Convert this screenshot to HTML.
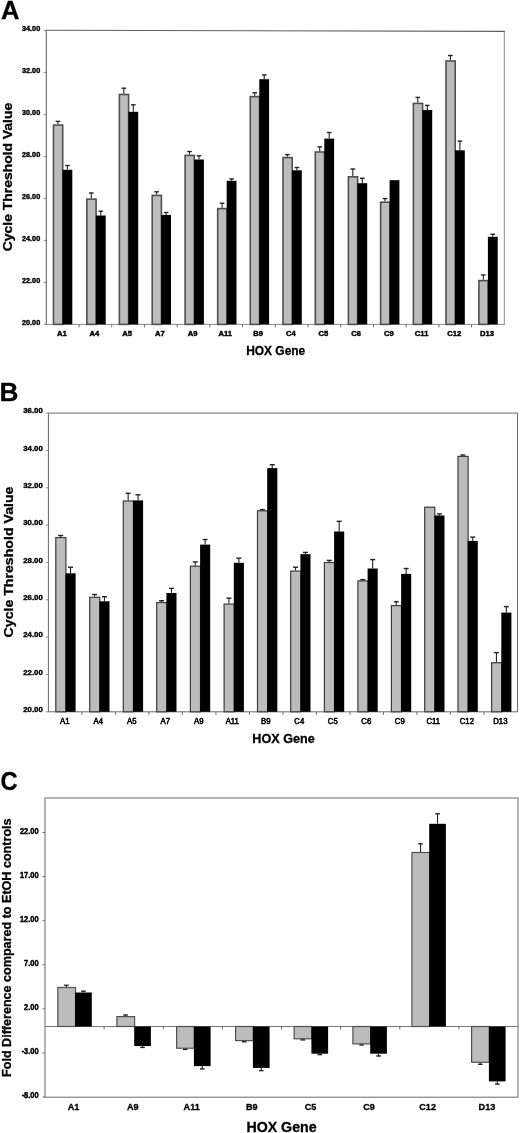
<!DOCTYPE html>
<html><head><meta charset="utf-8"><style>
html,body{margin:0;padding:0;background:#fff;}
body{width:520px;height:1133px;overflow:hidden;}
svg{display:block;font-family:"Liberation Sans", sans-serif;filter:grayscale(1);}
</style></head><body>
<svg width="520" height="1133" viewBox="0 0 520 1133">
<rect width="520" height="1133" fill="#fff"/>
<text transform="translate(1.00,19.10)" font-size="25.5" font-weight="bold" text-anchor="start" fill="#000" stroke="#000" stroke-width="0.3">A</text>
<line x1="45.8" y1="30.2" x2="504.8" y2="31.4" stroke="#606060" stroke-width="1.1"/>
<line x1="504.3" y1="31" x2="504.3" y2="324.4" stroke="#8a8a8a" stroke-width="1"/>
<line x1="46.3" y1="324.4" x2="504.8" y2="324.4" stroke="#8a8a8a" stroke-width="1"/>
<line x1="46.3" y1="30" x2="46.3" y2="324.9" stroke="#666" stroke-width="1.1"/>
<rect x="53.50" y="125.10" width="9.20" height="199.30" fill="#bcbcbc" stroke="#505050" stroke-width="1.6"/>
<rect x="62.50" y="169.80" width="9.80" height="154.60" fill="#000"/>
<line x1="57.90" y1="124.30" x2="57.90" y2="121.40" stroke="#222" stroke-width="1.1"/>
<line x1="55.60" y1="121.40" x2="60.20" y2="121.40" stroke="#222" stroke-width="1.4"/>
<line x1="67.40" y1="169.80" x2="67.40" y2="165.50" stroke="#222" stroke-width="1.1"/>
<line x1="65.10" y1="165.50" x2="69.70" y2="165.50" stroke="#222" stroke-width="1.4"/>
<rect x="86.90" y="199.10" width="9.20" height="125.30" fill="#bcbcbc" stroke="#505050" stroke-width="1.6"/>
<rect x="95.90" y="215.50" width="9.80" height="108.90" fill="#000"/>
<line x1="91.30" y1="198.30" x2="91.30" y2="193.00" stroke="#222" stroke-width="1.1"/>
<line x1="89.00" y1="193.00" x2="93.60" y2="193.00" stroke="#222" stroke-width="1.4"/>
<line x1="100.80" y1="215.50" x2="100.80" y2="211.20" stroke="#222" stroke-width="1.1"/>
<line x1="98.50" y1="211.20" x2="103.10" y2="211.20" stroke="#222" stroke-width="1.4"/>
<rect x="119.40" y="94.50" width="9.20" height="229.90" fill="#bcbcbc" stroke="#505050" stroke-width="1.6"/>
<rect x="128.40" y="111.80" width="9.80" height="212.60" fill="#000"/>
<line x1="123.80" y1="93.70" x2="123.80" y2="88.20" stroke="#222" stroke-width="1.1"/>
<line x1="121.50" y1="88.20" x2="126.10" y2="88.20" stroke="#222" stroke-width="1.4"/>
<line x1="133.30" y1="111.80" x2="133.30" y2="104.80" stroke="#222" stroke-width="1.1"/>
<line x1="131.00" y1="104.80" x2="135.60" y2="104.80" stroke="#222" stroke-width="1.4"/>
<rect x="152.20" y="195.40" width="9.20" height="129.00" fill="#bcbcbc" stroke="#505050" stroke-width="1.6"/>
<rect x="161.20" y="214.90" width="9.80" height="109.50" fill="#000"/>
<line x1="156.60" y1="194.60" x2="156.60" y2="191.80" stroke="#222" stroke-width="1.1"/>
<line x1="154.30" y1="191.80" x2="158.90" y2="191.80" stroke="#222" stroke-width="1.4"/>
<line x1="166.10" y1="214.90" x2="166.10" y2="212.50" stroke="#222" stroke-width="1.1"/>
<line x1="163.80" y1="212.50" x2="168.40" y2="212.50" stroke="#222" stroke-width="1.4"/>
<rect x="185.10" y="155.40" width="9.20" height="169.00" fill="#bcbcbc" stroke="#505050" stroke-width="1.6"/>
<rect x="194.10" y="159.50" width="9.80" height="164.90" fill="#000"/>
<line x1="189.50" y1="154.60" x2="189.50" y2="151.50" stroke="#222" stroke-width="1.1"/>
<line x1="187.20" y1="151.50" x2="191.80" y2="151.50" stroke="#222" stroke-width="1.4"/>
<line x1="199.00" y1="159.50" x2="199.00" y2="155.80" stroke="#222" stroke-width="1.1"/>
<line x1="196.70" y1="155.80" x2="201.30" y2="155.80" stroke="#222" stroke-width="1.4"/>
<rect x="217.70" y="208.60" width="9.20" height="115.80" fill="#bcbcbc" stroke="#505050" stroke-width="1.6"/>
<rect x="226.70" y="180.80" width="9.80" height="143.60" fill="#000"/>
<line x1="222.10" y1="207.80" x2="222.10" y2="203.20" stroke="#222" stroke-width="1.1"/>
<line x1="219.80" y1="203.20" x2="224.40" y2="203.20" stroke="#222" stroke-width="1.4"/>
<line x1="231.60" y1="180.80" x2="231.60" y2="178.90" stroke="#222" stroke-width="1.1"/>
<line x1="229.30" y1="178.90" x2="233.90" y2="178.90" stroke="#222" stroke-width="1.4"/>
<rect x="250.30" y="96.60" width="9.20" height="227.80" fill="#bcbcbc" stroke="#505050" stroke-width="1.6"/>
<rect x="259.30" y="79.20" width="9.80" height="245.20" fill="#000"/>
<line x1="254.70" y1="95.80" x2="254.70" y2="92.80" stroke="#222" stroke-width="1.1"/>
<line x1="252.40" y1="92.80" x2="257.00" y2="92.80" stroke="#222" stroke-width="1.4"/>
<line x1="264.20" y1="79.20" x2="264.20" y2="74.90" stroke="#222" stroke-width="1.1"/>
<line x1="261.90" y1="74.90" x2="266.50" y2="74.90" stroke="#222" stroke-width="1.4"/>
<rect x="283.00" y="157.60" width="9.20" height="166.80" fill="#bcbcbc" stroke="#505050" stroke-width="1.6"/>
<rect x="292.00" y="170.30" width="9.80" height="154.10" fill="#000"/>
<line x1="287.40" y1="156.80" x2="287.40" y2="154.60" stroke="#222" stroke-width="1.1"/>
<line x1="285.10" y1="154.60" x2="289.70" y2="154.60" stroke="#222" stroke-width="1.4"/>
<line x1="296.90" y1="170.30" x2="296.90" y2="167.50" stroke="#222" stroke-width="1.1"/>
<line x1="294.60" y1="167.50" x2="299.20" y2="167.50" stroke="#222" stroke-width="1.4"/>
<rect x="315.30" y="152.00" width="9.20" height="172.40" fill="#bcbcbc" stroke="#505050" stroke-width="1.6"/>
<rect x="324.30" y="138.60" width="9.80" height="185.80" fill="#000"/>
<line x1="319.70" y1="151.20" x2="319.70" y2="146.90" stroke="#222" stroke-width="1.1"/>
<line x1="317.40" y1="146.90" x2="322.00" y2="146.90" stroke="#222" stroke-width="1.4"/>
<line x1="329.20" y1="138.60" x2="329.20" y2="132.50" stroke="#222" stroke-width="1.1"/>
<line x1="326.90" y1="132.50" x2="331.50" y2="132.50" stroke="#222" stroke-width="1.4"/>
<rect x="348.40" y="176.80" width="9.20" height="147.60" fill="#bcbcbc" stroke="#505050" stroke-width="1.6"/>
<rect x="357.40" y="183.20" width="9.80" height="141.20" fill="#000"/>
<line x1="352.80" y1="176.00" x2="352.80" y2="169.00" stroke="#222" stroke-width="1.1"/>
<line x1="350.50" y1="169.00" x2="355.10" y2="169.00" stroke="#222" stroke-width="1.4"/>
<line x1="362.30" y1="183.20" x2="362.30" y2="178.30" stroke="#222" stroke-width="1.1"/>
<line x1="360.00" y1="178.30" x2="364.60" y2="178.30" stroke="#222" stroke-width="1.4"/>
<rect x="380.60" y="202.20" width="9.20" height="122.20" fill="#bcbcbc" stroke="#505050" stroke-width="1.6"/>
<rect x="389.60" y="180.20" width="9.80" height="144.20" fill="#000"/>
<line x1="385.00" y1="201.40" x2="385.00" y2="198.60" stroke="#222" stroke-width="1.1"/>
<line x1="382.70" y1="198.60" x2="387.30" y2="198.60" stroke="#222" stroke-width="1.4"/>
<rect x="413.40" y="103.40" width="9.20" height="221.00" fill="#bcbcbc" stroke="#505050" stroke-width="1.6"/>
<rect x="422.40" y="110.00" width="9.80" height="214.40" fill="#000"/>
<line x1="417.80" y1="102.60" x2="417.80" y2="97.40" stroke="#222" stroke-width="1.1"/>
<line x1="415.50" y1="97.40" x2="420.10" y2="97.40" stroke="#222" stroke-width="1.4"/>
<line x1="427.30" y1="110.00" x2="427.30" y2="105.40" stroke="#222" stroke-width="1.1"/>
<line x1="425.00" y1="105.40" x2="429.60" y2="105.40" stroke="#222" stroke-width="1.4"/>
<rect x="446.00" y="61.00" width="9.20" height="263.40" fill="#bcbcbc" stroke="#505050" stroke-width="1.6"/>
<rect x="455.00" y="150.30" width="9.80" height="174.10" fill="#000"/>
<line x1="450.40" y1="60.20" x2="450.40" y2="55.50" stroke="#222" stroke-width="1.1"/>
<line x1="448.10" y1="55.50" x2="452.70" y2="55.50" stroke="#222" stroke-width="1.4"/>
<line x1="459.90" y1="150.30" x2="459.90" y2="141.10" stroke="#222" stroke-width="1.1"/>
<line x1="457.60" y1="141.10" x2="462.20" y2="141.10" stroke="#222" stroke-width="1.4"/>
<rect x="478.90" y="280.60" width="9.20" height="43.80" fill="#bcbcbc" stroke="#505050" stroke-width="1.6"/>
<rect x="487.90" y="236.80" width="9.80" height="87.60" fill="#000"/>
<line x1="483.30" y1="279.80" x2="483.30" y2="274.90" stroke="#222" stroke-width="1.1"/>
<line x1="481.00" y1="274.90" x2="485.60" y2="274.90" stroke="#222" stroke-width="1.4"/>
<line x1="492.80" y1="236.80" x2="492.80" y2="234.30" stroke="#222" stroke-width="1.1"/>
<line x1="490.50" y1="234.30" x2="495.10" y2="234.30" stroke="#222" stroke-width="1.4"/>
<line x1="43.8" y1="324.40" x2="46.3" y2="324.40" stroke="#8a8a8a" stroke-width="1"/>
<text transform="translate(40.20,325.20) scale(0.97,1.0)" font-size="7.5" font-weight="bold" text-anchor="end" fill="#000" stroke="#000" stroke-width="0.4">20.00</text>
<line x1="43.8" y1="282.43" x2="46.3" y2="282.43" stroke="#8a8a8a" stroke-width="1"/>
<text transform="translate(40.20,283.23) scale(0.97,1.0)" font-size="7.5" font-weight="bold" text-anchor="end" fill="#000" stroke="#000" stroke-width="0.4">22.00</text>
<line x1="43.8" y1="240.46" x2="46.3" y2="240.46" stroke="#8a8a8a" stroke-width="1"/>
<text transform="translate(40.20,241.26) scale(0.97,1.0)" font-size="7.5" font-weight="bold" text-anchor="end" fill="#000" stroke="#000" stroke-width="0.4">24.00</text>
<line x1="43.8" y1="198.49" x2="46.3" y2="198.49" stroke="#8a8a8a" stroke-width="1"/>
<text transform="translate(40.20,199.29) scale(0.97,1.0)" font-size="7.5" font-weight="bold" text-anchor="end" fill="#000" stroke="#000" stroke-width="0.4">26.00</text>
<line x1="43.8" y1="156.51" x2="46.3" y2="156.51" stroke="#8a8a8a" stroke-width="1"/>
<text transform="translate(40.20,157.31) scale(0.97,1.0)" font-size="7.5" font-weight="bold" text-anchor="end" fill="#000" stroke="#000" stroke-width="0.4">28.00</text>
<line x1="43.8" y1="114.54" x2="46.3" y2="114.54" stroke="#8a8a8a" stroke-width="1"/>
<text transform="translate(40.20,115.34) scale(0.97,1.0)" font-size="7.5" font-weight="bold" text-anchor="end" fill="#000" stroke="#000" stroke-width="0.4">30.00</text>
<line x1="43.8" y1="72.57" x2="46.3" y2="72.57" stroke="#8a8a8a" stroke-width="1"/>
<text transform="translate(40.20,73.37) scale(0.97,1.0)" font-size="7.5" font-weight="bold" text-anchor="end" fill="#000" stroke="#000" stroke-width="0.4">32.00</text>
<line x1="43.8" y1="30.60" x2="46.3" y2="30.60" stroke="#8a8a8a" stroke-width="1"/>
<text transform="translate(40.20,31.40) scale(0.97,1.0)" font-size="7.5" font-weight="bold" text-anchor="end" fill="#000" stroke="#000" stroke-width="0.4">34.00</text>
<text transform="translate(61.76,335.80)" font-size="7.6" font-weight="bold" text-anchor="middle" fill="#000" stroke="#000" stroke-width="0.45">A1</text>
<text transform="translate(94.47,335.80)" font-size="7.6" font-weight="bold" text-anchor="middle" fill="#000" stroke="#000" stroke-width="0.45">A4</text>
<line x1="79.01" y1="324.4" x2="79.01" y2="327.4" stroke="#6a6a6a" stroke-width="1"/>
<text transform="translate(127.19,335.80)" font-size="7.6" font-weight="bold" text-anchor="middle" fill="#000" stroke="#000" stroke-width="0.45">A5</text>
<line x1="111.73" y1="324.4" x2="111.73" y2="327.4" stroke="#6a6a6a" stroke-width="1"/>
<text transform="translate(159.90,335.80)" font-size="7.6" font-weight="bold" text-anchor="middle" fill="#000" stroke="#000" stroke-width="0.45">A7</text>
<line x1="144.44" y1="324.4" x2="144.44" y2="327.4" stroke="#6a6a6a" stroke-width="1"/>
<text transform="translate(192.61,335.80)" font-size="7.6" font-weight="bold" text-anchor="middle" fill="#000" stroke="#000" stroke-width="0.45">A9</text>
<line x1="177.16" y1="324.4" x2="177.16" y2="327.4" stroke="#6a6a6a" stroke-width="1"/>
<text transform="translate(225.33,335.80)" font-size="7.6" font-weight="bold" text-anchor="middle" fill="#000" stroke="#000" stroke-width="0.45">A11</text>
<line x1="209.87" y1="324.4" x2="209.87" y2="327.4" stroke="#6a6a6a" stroke-width="1"/>
<text transform="translate(258.04,335.80)" font-size="7.6" font-weight="bold" text-anchor="middle" fill="#000" stroke="#000" stroke-width="0.45">B9</text>
<line x1="242.59" y1="324.4" x2="242.59" y2="327.4" stroke="#6a6a6a" stroke-width="1"/>
<text transform="translate(290.76,335.80)" font-size="7.6" font-weight="bold" text-anchor="middle" fill="#000" stroke="#000" stroke-width="0.45">C4</text>
<line x1="275.30" y1="324.4" x2="275.30" y2="327.4" stroke="#6a6a6a" stroke-width="1"/>
<text transform="translate(323.47,335.80)" font-size="7.6" font-weight="bold" text-anchor="middle" fill="#000" stroke="#000" stroke-width="0.45">C5</text>
<line x1="308.01" y1="324.4" x2="308.01" y2="327.4" stroke="#6a6a6a" stroke-width="1"/>
<text transform="translate(356.19,335.80)" font-size="7.6" font-weight="bold" text-anchor="middle" fill="#000" stroke="#000" stroke-width="0.45">C6</text>
<line x1="340.73" y1="324.4" x2="340.73" y2="327.4" stroke="#6a6a6a" stroke-width="1"/>
<text transform="translate(388.90,335.80)" font-size="7.6" font-weight="bold" text-anchor="middle" fill="#000" stroke="#000" stroke-width="0.45">C9</text>
<line x1="373.44" y1="324.4" x2="373.44" y2="327.4" stroke="#6a6a6a" stroke-width="1"/>
<text transform="translate(421.61,335.80)" font-size="7.6" font-weight="bold" text-anchor="middle" fill="#000" stroke="#000" stroke-width="0.45">C11</text>
<line x1="406.16" y1="324.4" x2="406.16" y2="327.4" stroke="#6a6a6a" stroke-width="1"/>
<text transform="translate(454.33,335.80)" font-size="7.6" font-weight="bold" text-anchor="middle" fill="#000" stroke="#000" stroke-width="0.45">C12</text>
<line x1="438.87" y1="324.4" x2="438.87" y2="327.4" stroke="#6a6a6a" stroke-width="1"/>
<text transform="translate(487.04,335.80)" font-size="7.6" font-weight="bold" text-anchor="middle" fill="#000" stroke="#000" stroke-width="0.45">D13</text>
<line x1="471.59" y1="324.4" x2="471.59" y2="327.4" stroke="#6a6a6a" stroke-width="1"/>
<text transform="translate(275.70,355.30) scale(0.95,1.0)" font-size="12.6" font-weight="bold" text-anchor="middle" fill="#000" stroke="#000" stroke-width="0.3">HOX Gene</text>
<text transform="translate(12.20,177.00) rotate(-90) scale(1.14,1.0)" font-size="12.2" font-weight="bold" text-anchor="middle" fill="#000" stroke="#000" stroke-width="0.3">Cycle Threshold Value</text>
<text transform="translate(-0.50,401.40)" font-size="26.2" font-weight="bold" text-anchor="start" fill="#000" stroke="#000" stroke-width="0.3">B</text>
<rect x="48.4" y="413.1" width="469.1" height="298.69999999999993" fill="none" stroke="#6a6a6a" stroke-width="1"/>
<rect x="55.80" y="537.60" width="10.10" height="174.20" fill="#bcbcbc" stroke="#3c3c3c" stroke-width="1.2"/>
<rect x="65.50" y="573.30" width="10.10" height="138.50" fill="#000"/>
<line x1="60.65" y1="537.00" x2="60.65" y2="535.50" stroke="#222" stroke-width="1.1"/>
<line x1="58.15" y1="535.50" x2="63.15" y2="535.50" stroke="#222" stroke-width="1.4"/>
<line x1="70.55" y1="573.30" x2="70.55" y2="567.20" stroke="#222" stroke-width="1.1"/>
<line x1="68.05" y1="567.20" x2="73.05" y2="567.20" stroke="#222" stroke-width="1.4"/>
<rect x="89.70" y="597.30" width="10.10" height="114.50" fill="#bcbcbc" stroke="#3c3c3c" stroke-width="1.2"/>
<rect x="99.40" y="601.30" width="10.10" height="110.50" fill="#000"/>
<line x1="94.55" y1="596.70" x2="94.55" y2="594.50" stroke="#222" stroke-width="1.1"/>
<line x1="92.05" y1="594.50" x2="97.05" y2="594.50" stroke="#222" stroke-width="1.4"/>
<line x1="104.45" y1="601.30" x2="104.45" y2="596.70" stroke="#222" stroke-width="1.1"/>
<line x1="101.95" y1="596.70" x2="106.95" y2="596.70" stroke="#222" stroke-width="1.4"/>
<rect x="123.30" y="501.00" width="10.10" height="210.80" fill="#bcbcbc" stroke="#3c3c3c" stroke-width="1.2"/>
<rect x="133.00" y="500.40" width="10.10" height="211.40" fill="#000"/>
<line x1="128.15" y1="500.40" x2="128.15" y2="493.30" stroke="#222" stroke-width="1.1"/>
<line x1="125.65" y1="493.30" x2="130.65" y2="493.30" stroke="#222" stroke-width="1.4"/>
<line x1="138.05" y1="500.40" x2="138.05" y2="494.80" stroke="#222" stroke-width="1.1"/>
<line x1="135.55" y1="494.80" x2="140.55" y2="494.80" stroke="#222" stroke-width="1.4"/>
<rect x="156.70" y="602.50" width="10.10" height="109.30" fill="#bcbcbc" stroke="#3c3c3c" stroke-width="1.2"/>
<rect x="166.40" y="593.00" width="10.10" height="118.80" fill="#000"/>
<line x1="161.55" y1="601.90" x2="161.55" y2="600.70" stroke="#222" stroke-width="1.1"/>
<line x1="159.05" y1="600.70" x2="164.05" y2="600.70" stroke="#222" stroke-width="1.4"/>
<line x1="171.45" y1="593.00" x2="171.45" y2="588.40" stroke="#222" stroke-width="1.1"/>
<line x1="168.95" y1="588.40" x2="173.95" y2="588.40" stroke="#222" stroke-width="1.4"/>
<rect x="190.40" y="566.20" width="10.10" height="145.60" fill="#bcbcbc" stroke="#3c3c3c" stroke-width="1.2"/>
<rect x="200.10" y="544.60" width="10.10" height="167.20" fill="#000"/>
<line x1="195.25" y1="565.60" x2="195.25" y2="561.90" stroke="#222" stroke-width="1.1"/>
<line x1="192.75" y1="561.90" x2="197.75" y2="561.90" stroke="#222" stroke-width="1.4"/>
<line x1="205.15" y1="544.60" x2="205.15" y2="539.50" stroke="#222" stroke-width="1.1"/>
<line x1="202.65" y1="539.50" x2="207.65" y2="539.50" stroke="#222" stroke-width="1.4"/>
<rect x="224.10" y="604.10" width="10.10" height="107.70" fill="#bcbcbc" stroke="#3c3c3c" stroke-width="1.2"/>
<rect x="233.80" y="562.80" width="10.10" height="149.00" fill="#000"/>
<line x1="228.95" y1="603.50" x2="228.95" y2="598.20" stroke="#222" stroke-width="1.1"/>
<line x1="226.45" y1="598.20" x2="231.45" y2="598.20" stroke="#222" stroke-width="1.4"/>
<line x1="238.85" y1="562.80" x2="238.85" y2="558.20" stroke="#222" stroke-width="1.1"/>
<line x1="236.35" y1="558.20" x2="241.35" y2="558.20" stroke="#222" stroke-width="1.4"/>
<rect x="257.50" y="510.80" width="10.10" height="201.00" fill="#bcbcbc" stroke="#3c3c3c" stroke-width="1.2"/>
<rect x="267.20" y="468.10" width="10.10" height="243.70" fill="#000"/>
<line x1="262.35" y1="510.20" x2="262.35" y2="509.60" stroke="#222" stroke-width="1.1"/>
<line x1="259.85" y1="509.60" x2="264.85" y2="509.60" stroke="#222" stroke-width="1.4"/>
<line x1="272.25" y1="468.10" x2="272.25" y2="464.70" stroke="#222" stroke-width="1.1"/>
<line x1="269.75" y1="464.70" x2="274.75" y2="464.70" stroke="#222" stroke-width="1.4"/>
<rect x="290.70" y="571.10" width="10.10" height="140.70" fill="#bcbcbc" stroke="#3c3c3c" stroke-width="1.2"/>
<rect x="300.40" y="554.20" width="10.10" height="157.60" fill="#000"/>
<line x1="295.55" y1="570.50" x2="295.55" y2="567.20" stroke="#222" stroke-width="1.1"/>
<line x1="293.05" y1="567.20" x2="298.05" y2="567.20" stroke="#222" stroke-width="1.4"/>
<line x1="305.45" y1="554.20" x2="305.45" y2="552.40" stroke="#222" stroke-width="1.1"/>
<line x1="302.95" y1="552.40" x2="307.95" y2="552.40" stroke="#222" stroke-width="1.4"/>
<rect x="324.40" y="562.50" width="10.10" height="149.30" fill="#bcbcbc" stroke="#3c3c3c" stroke-width="1.2"/>
<rect x="334.10" y="531.50" width="10.10" height="180.30" fill="#000"/>
<line x1="329.25" y1="561.90" x2="329.25" y2="560.40" stroke="#222" stroke-width="1.1"/>
<line x1="326.75" y1="560.40" x2="331.75" y2="560.40" stroke="#222" stroke-width="1.4"/>
<line x1="339.15" y1="531.50" x2="339.15" y2="521.30" stroke="#222" stroke-width="1.1"/>
<line x1="336.65" y1="521.30" x2="341.65" y2="521.30" stroke="#222" stroke-width="1.4"/>
<rect x="357.90" y="580.90" width="10.10" height="130.90" fill="#bcbcbc" stroke="#3c3c3c" stroke-width="1.2"/>
<rect x="367.60" y="568.50" width="10.10" height="143.30" fill="#000"/>
<line x1="362.75" y1="580.30" x2="362.75" y2="579.60" stroke="#222" stroke-width="1.1"/>
<line x1="360.25" y1="579.60" x2="365.25" y2="579.60" stroke="#222" stroke-width="1.4"/>
<line x1="372.65" y1="568.50" x2="372.65" y2="559.60" stroke="#222" stroke-width="1.1"/>
<line x1="370.15" y1="559.60" x2="375.15" y2="559.60" stroke="#222" stroke-width="1.4"/>
<rect x="391.40" y="605.60" width="10.10" height="106.20" fill="#bcbcbc" stroke="#3c3c3c" stroke-width="1.2"/>
<rect x="401.10" y="573.90" width="10.10" height="137.90" fill="#000"/>
<line x1="396.25" y1="605.00" x2="396.25" y2="601.80" stroke="#222" stroke-width="1.1"/>
<line x1="393.75" y1="601.80" x2="398.75" y2="601.80" stroke="#222" stroke-width="1.4"/>
<line x1="406.15" y1="573.90" x2="406.15" y2="568.50" stroke="#222" stroke-width="1.1"/>
<line x1="403.65" y1="568.50" x2="408.65" y2="568.50" stroke="#222" stroke-width="1.4"/>
<rect x="424.70" y="507.20" width="10.10" height="204.60" fill="#bcbcbc" stroke="#3c3c3c" stroke-width="1.2"/>
<rect x="434.40" y="515.50" width="10.10" height="196.30" fill="#000"/>
<line x1="439.45" y1="515.50" x2="439.45" y2="513.90" stroke="#222" stroke-width="1.1"/>
<line x1="436.95" y1="513.90" x2="441.95" y2="513.90" stroke="#222" stroke-width="1.4"/>
<rect x="458.00" y="456.40" width="10.10" height="255.40" fill="#bcbcbc" stroke="#3c3c3c" stroke-width="1.2"/>
<rect x="467.70" y="540.90" width="10.10" height="170.90" fill="#000"/>
<line x1="462.85" y1="455.80" x2="462.85" y2="455.00" stroke="#222" stroke-width="1.1"/>
<line x1="460.35" y1="455.00" x2="465.35" y2="455.00" stroke="#222" stroke-width="1.4"/>
<line x1="472.75" y1="540.90" x2="472.75" y2="537.10" stroke="#222" stroke-width="1.1"/>
<line x1="470.25" y1="537.10" x2="475.25" y2="537.10" stroke="#222" stroke-width="1.4"/>
<rect x="491.60" y="662.70" width="10.10" height="49.10" fill="#bcbcbc" stroke="#3c3c3c" stroke-width="1.2"/>
<rect x="501.30" y="612.60" width="10.10" height="99.20" fill="#000"/>
<line x1="496.45" y1="662.10" x2="496.45" y2="652.60" stroke="#222" stroke-width="1.1"/>
<line x1="493.95" y1="652.60" x2="498.95" y2="652.60" stroke="#222" stroke-width="1.4"/>
<line x1="506.35" y1="612.60" x2="506.35" y2="606.60" stroke="#222" stroke-width="1.1"/>
<line x1="503.85" y1="606.60" x2="508.85" y2="606.60" stroke="#222" stroke-width="1.4"/>
<line x1="45.9" y1="711.80" x2="48.4" y2="711.80" stroke="#8a8a8a" stroke-width="1"/>
<text transform="translate(42.80,711.90)" font-size="7.8" font-weight="bold" text-anchor="end" fill="#000" stroke="#000" stroke-width="0.4">20.00</text>
<line x1="45.9" y1="674.46" x2="48.4" y2="674.46" stroke="#8a8a8a" stroke-width="1"/>
<text transform="translate(42.80,674.56)" font-size="7.8" font-weight="bold" text-anchor="end" fill="#000" stroke="#000" stroke-width="0.4">22.00</text>
<line x1="45.9" y1="637.12" x2="48.4" y2="637.12" stroke="#8a8a8a" stroke-width="1"/>
<text transform="translate(42.80,637.23)" font-size="7.8" font-weight="bold" text-anchor="end" fill="#000" stroke="#000" stroke-width="0.4">24.00</text>
<line x1="45.9" y1="599.79" x2="48.4" y2="599.79" stroke="#8a8a8a" stroke-width="1"/>
<text transform="translate(42.80,599.89)" font-size="7.8" font-weight="bold" text-anchor="end" fill="#000" stroke="#000" stroke-width="0.4">26.00</text>
<line x1="45.9" y1="562.45" x2="48.4" y2="562.45" stroke="#8a8a8a" stroke-width="1"/>
<text transform="translate(42.80,562.55)" font-size="7.8" font-weight="bold" text-anchor="end" fill="#000" stroke="#000" stroke-width="0.4">28.00</text>
<line x1="45.9" y1="525.11" x2="48.4" y2="525.11" stroke="#8a8a8a" stroke-width="1"/>
<text transform="translate(42.80,525.21)" font-size="7.8" font-weight="bold" text-anchor="end" fill="#000" stroke="#000" stroke-width="0.4">30.00</text>
<line x1="45.9" y1="487.77" x2="48.4" y2="487.77" stroke="#8a8a8a" stroke-width="1"/>
<text transform="translate(42.80,487.88)" font-size="7.8" font-weight="bold" text-anchor="end" fill="#000" stroke="#000" stroke-width="0.4">32.00</text>
<line x1="45.9" y1="450.44" x2="48.4" y2="450.44" stroke="#8a8a8a" stroke-width="1"/>
<text transform="translate(42.80,450.54)" font-size="7.8" font-weight="bold" text-anchor="end" fill="#000" stroke="#000" stroke-width="0.4">34.00</text>
<line x1="45.9" y1="413.10" x2="48.4" y2="413.10" stroke="#8a8a8a" stroke-width="1"/>
<text transform="translate(42.80,413.20)" font-size="7.8" font-weight="bold" text-anchor="end" fill="#000" stroke="#000" stroke-width="0.4">36.00</text>
<text transform="translate(64.75,723.80) scale(0.95,1.0)" font-size="8.2" font-weight="normal" text-anchor="middle" fill="#000" stroke="#000" stroke-width="0.55">A1</text>
<text transform="translate(98.26,723.80) scale(0.95,1.0)" font-size="8.2" font-weight="normal" text-anchor="middle" fill="#000" stroke="#000" stroke-width="0.55">A4</text>
<line x1="81.91" y1="711.8" x2="81.91" y2="714.8" stroke="#6a6a6a" stroke-width="1"/>
<text transform="translate(131.77,723.80) scale(0.95,1.0)" font-size="8.2" font-weight="normal" text-anchor="middle" fill="#000" stroke="#000" stroke-width="0.55">A5</text>
<line x1="115.41" y1="711.8" x2="115.41" y2="714.8" stroke="#6a6a6a" stroke-width="1"/>
<text transform="translate(165.28,723.80) scale(0.95,1.0)" font-size="8.2" font-weight="normal" text-anchor="middle" fill="#000" stroke="#000" stroke-width="0.55">A7</text>
<line x1="148.92" y1="711.8" x2="148.92" y2="714.8" stroke="#6a6a6a" stroke-width="1"/>
<text transform="translate(198.78,723.80) scale(0.95,1.0)" font-size="8.2" font-weight="normal" text-anchor="middle" fill="#000" stroke="#000" stroke-width="0.55">A9</text>
<line x1="182.43" y1="711.8" x2="182.43" y2="714.8" stroke="#6a6a6a" stroke-width="1"/>
<text transform="translate(232.29,723.80) scale(0.95,1.0)" font-size="8.2" font-weight="normal" text-anchor="middle" fill="#000" stroke="#000" stroke-width="0.55">A11</text>
<line x1="215.94" y1="711.8" x2="215.94" y2="714.8" stroke="#6a6a6a" stroke-width="1"/>
<text transform="translate(265.80,723.80) scale(0.95,1.0)" font-size="8.2" font-weight="normal" text-anchor="middle" fill="#000" stroke="#000" stroke-width="0.55">B9</text>
<line x1="249.44" y1="711.8" x2="249.44" y2="714.8" stroke="#6a6a6a" stroke-width="1"/>
<text transform="translate(299.30,723.80) scale(0.95,1.0)" font-size="8.2" font-weight="normal" text-anchor="middle" fill="#000" stroke="#000" stroke-width="0.55">C4</text>
<line x1="282.95" y1="711.8" x2="282.95" y2="714.8" stroke="#6a6a6a" stroke-width="1"/>
<text transform="translate(332.81,723.80) scale(0.95,1.0)" font-size="8.2" font-weight="normal" text-anchor="middle" fill="#000" stroke="#000" stroke-width="0.55">C5</text>
<line x1="316.46" y1="711.8" x2="316.46" y2="714.8" stroke="#6a6a6a" stroke-width="1"/>
<text transform="translate(366.32,723.80) scale(0.95,1.0)" font-size="8.2" font-weight="normal" text-anchor="middle" fill="#000" stroke="#000" stroke-width="0.55">C6</text>
<line x1="349.96" y1="711.8" x2="349.96" y2="714.8" stroke="#6a6a6a" stroke-width="1"/>
<text transform="translate(399.83,723.80) scale(0.95,1.0)" font-size="8.2" font-weight="normal" text-anchor="middle" fill="#000" stroke="#000" stroke-width="0.55">C9</text>
<line x1="383.47" y1="711.8" x2="383.47" y2="714.8" stroke="#6a6a6a" stroke-width="1"/>
<text transform="translate(433.33,723.80) scale(0.95,1.0)" font-size="8.2" font-weight="normal" text-anchor="middle" fill="#000" stroke="#000" stroke-width="0.55">C11</text>
<line x1="416.98" y1="711.8" x2="416.98" y2="714.8" stroke="#6a6a6a" stroke-width="1"/>
<text transform="translate(466.84,723.80) scale(0.95,1.0)" font-size="8.2" font-weight="normal" text-anchor="middle" fill="#000" stroke="#000" stroke-width="0.55">C12</text>
<line x1="450.49" y1="711.8" x2="450.49" y2="714.8" stroke="#6a6a6a" stroke-width="1"/>
<text transform="translate(500.35,723.80) scale(0.95,1.0)" font-size="8.2" font-weight="normal" text-anchor="middle" fill="#000" stroke="#000" stroke-width="0.55">D13</text>
<line x1="483.99" y1="711.8" x2="483.99" y2="714.8" stroke="#6a6a6a" stroke-width="1"/>
<text transform="translate(283.50,743.10)" font-size="12.6" font-weight="bold" text-anchor="middle" fill="#000" stroke="#000" stroke-width="0.3">HOX Gene</text>
<text transform="translate(13.20,562.00) rotate(-90) scale(1.15,1.0)" font-size="12.3" font-weight="bold" text-anchor="middle" fill="#000" stroke="#000" stroke-width="0.3">Cycle Threshold Value</text>
<text transform="translate(0.40,790.30) scale(0.91,1.0)" font-size="26" font-weight="bold" text-anchor="start" fill="#000" stroke="#000" stroke-width="0.3">C</text>
<rect x="45.0" y="798.0" width="473.0" height="299.20000000000005" fill="none" stroke="#6a6a6a" stroke-width="1"/>
<line x1="45.0" y1="1026.5" x2="518.0" y2="1026.5" stroke="#777" stroke-width="1"/>
<line x1="104.12" y1="1026.5" x2="104.12" y2="1029.5" stroke="#6a6a6a" stroke-width="1"/>
<line x1="163.25" y1="1026.5" x2="163.25" y2="1029.5" stroke="#6a6a6a" stroke-width="1"/>
<line x1="222.38" y1="1026.5" x2="222.38" y2="1029.5" stroke="#6a6a6a" stroke-width="1"/>
<line x1="281.50" y1="1026.5" x2="281.50" y2="1029.5" stroke="#6a6a6a" stroke-width="1"/>
<line x1="340.62" y1="1026.5" x2="340.62" y2="1029.5" stroke="#6a6a6a" stroke-width="1"/>
<line x1="399.75" y1="1026.5" x2="399.75" y2="1029.5" stroke="#6a6a6a" stroke-width="1"/>
<line x1="458.88" y1="1026.5" x2="458.88" y2="1029.5" stroke="#6a6a6a" stroke-width="1"/>
<rect x="57.80" y="987.50" width="17.70" height="39.00" fill="#bcbcbc" stroke="#505050" stroke-width="1.2"/>
<rect x="75.10" y="992.50" width="16.70" height="34.00" fill="#000"/>
<line x1="66.45" y1="986.90" x2="66.45" y2="985.30" stroke="#222" stroke-width="1.1"/>
<line x1="64.15" y1="985.30" x2="68.75" y2="985.30" stroke="#222" stroke-width="1.4"/>
<line x1="83.45" y1="992.50" x2="83.45" y2="991.20" stroke="#222" stroke-width="1.1"/>
<line x1="81.15" y1="991.20" x2="85.75" y2="991.20" stroke="#222" stroke-width="1.4"/>
<rect x="116.90" y="1016.60" width="17.70" height="9.90" fill="#bcbcbc" stroke="#505050" stroke-width="1.2"/>
<rect x="134.20" y="1026.50" width="16.70" height="19.50" fill="#000"/>
<line x1="125.55" y1="1016.00" x2="125.55" y2="1015.00" stroke="#222" stroke-width="1.1"/>
<line x1="123.25" y1="1015.00" x2="127.85" y2="1015.00" stroke="#222" stroke-width="1.4"/>
<line x1="142.55" y1="1046.00" x2="142.55" y2="1047.40" stroke="#222" stroke-width="1.1"/>
<line x1="140.25" y1="1047.40" x2="144.85" y2="1047.40" stroke="#222" stroke-width="1.4"/>
<rect x="176.60" y="1026.50" width="17.70" height="21.70" fill="#bcbcbc" stroke="#505050" stroke-width="1.2"/>
<rect x="193.90" y="1026.50" width="16.70" height="39.60" fill="#000"/>
<line x1="185.25" y1="1048.80" x2="185.25" y2="1049.40" stroke="#222" stroke-width="1.1"/>
<line x1="182.95" y1="1049.40" x2="187.55" y2="1049.40" stroke="#222" stroke-width="1.4"/>
<line x1="202.25" y1="1066.10" x2="202.25" y2="1068.90" stroke="#222" stroke-width="1.1"/>
<line x1="199.95" y1="1068.90" x2="204.55" y2="1068.90" stroke="#222" stroke-width="1.4"/>
<rect x="235.60" y="1026.50" width="17.70" height="14.10" fill="#bcbcbc" stroke="#505050" stroke-width="1.2"/>
<rect x="252.90" y="1026.50" width="16.70" height="41.40" fill="#000"/>
<line x1="244.25" y1="1041.20" x2="244.25" y2="1041.80" stroke="#222" stroke-width="1.1"/>
<line x1="241.95" y1="1041.80" x2="246.55" y2="1041.80" stroke="#222" stroke-width="1.4"/>
<line x1="261.25" y1="1067.90" x2="261.25" y2="1070.60" stroke="#222" stroke-width="1.1"/>
<line x1="258.95" y1="1070.60" x2="263.55" y2="1070.60" stroke="#222" stroke-width="1.4"/>
<rect x="294.10" y="1026.50" width="17.70" height="12.30" fill="#bcbcbc" stroke="#505050" stroke-width="1.2"/>
<rect x="311.40" y="1026.50" width="16.70" height="27.20" fill="#000"/>
<line x1="302.75" y1="1039.40" x2="302.75" y2="1039.90" stroke="#222" stroke-width="1.1"/>
<line x1="300.45" y1="1039.90" x2="305.05" y2="1039.90" stroke="#222" stroke-width="1.4"/>
<line x1="319.75" y1="1053.70" x2="319.75" y2="1054.60" stroke="#222" stroke-width="1.1"/>
<line x1="317.45" y1="1054.60" x2="322.05" y2="1054.60" stroke="#222" stroke-width="1.4"/>
<rect x="352.90" y="1026.50" width="17.70" height="17.40" fill="#bcbcbc" stroke="#505050" stroke-width="1.2"/>
<rect x="370.20" y="1026.50" width="16.70" height="27.20" fill="#000"/>
<line x1="361.55" y1="1044.50" x2="361.55" y2="1045.00" stroke="#222" stroke-width="1.1"/>
<line x1="359.25" y1="1045.00" x2="363.85" y2="1045.00" stroke="#222" stroke-width="1.4"/>
<line x1="378.55" y1="1053.70" x2="378.55" y2="1056.00" stroke="#222" stroke-width="1.1"/>
<line x1="376.25" y1="1056.00" x2="380.85" y2="1056.00" stroke="#222" stroke-width="1.4"/>
<rect x="411.90" y="852.50" width="17.70" height="174.00" fill="#bcbcbc" stroke="#505050" stroke-width="1.2"/>
<rect x="429.20" y="823.80" width="16.70" height="202.70" fill="#000"/>
<line x1="420.55" y1="851.90" x2="420.55" y2="843.80" stroke="#222" stroke-width="1.1"/>
<line x1="418.25" y1="843.80" x2="422.85" y2="843.80" stroke="#222" stroke-width="1.4"/>
<line x1="437.55" y1="823.80" x2="437.55" y2="813.80" stroke="#222" stroke-width="1.1"/>
<line x1="435.25" y1="813.80" x2="439.85" y2="813.80" stroke="#222" stroke-width="1.4"/>
<rect x="471.60" y="1026.50" width="17.70" height="35.80" fill="#bcbcbc" stroke="#505050" stroke-width="1.2"/>
<rect x="488.90" y="1026.50" width="16.70" height="54.90" fill="#000"/>
<line x1="480.25" y1="1062.90" x2="480.25" y2="1064.30" stroke="#222" stroke-width="1.1"/>
<line x1="477.95" y1="1064.30" x2="482.55" y2="1064.30" stroke="#222" stroke-width="1.4"/>
<line x1="497.25" y1="1081.40" x2="497.25" y2="1084.10" stroke="#222" stroke-width="1.1"/>
<line x1="494.95" y1="1084.10" x2="499.55" y2="1084.10" stroke="#222" stroke-width="1.4"/>
<line x1="42.5" y1="1097.04" x2="45.0" y2="1097.04" stroke="#6a6a6a" stroke-width="1"/>
<text transform="translate(38.50,1098.14) scale(1.0,1.12)" font-size="7.4" font-weight="bold" text-anchor="end" fill="#000" stroke="#000" stroke-width="0.4">-8.00</text>
<line x1="42.5" y1="1052.95" x2="45.0" y2="1052.95" stroke="#6a6a6a" stroke-width="1"/>
<text transform="translate(38.50,1054.05) scale(1.0,1.12)" font-size="7.4" font-weight="bold" text-anchor="end" fill="#000" stroke="#000" stroke-width="0.4">-3.00</text>
<line x1="42.5" y1="1008.87" x2="45.0" y2="1008.87" stroke="#6a6a6a" stroke-width="1"/>
<text transform="translate(38.50,1009.97) scale(1.0,1.12)" font-size="7.4" font-weight="bold" text-anchor="end" fill="#000" stroke="#000" stroke-width="0.4">2.00</text>
<line x1="42.5" y1="964.78" x2="45.0" y2="964.78" stroke="#6a6a6a" stroke-width="1"/>
<text transform="translate(38.50,965.88) scale(1.0,1.12)" font-size="7.4" font-weight="bold" text-anchor="end" fill="#000" stroke="#000" stroke-width="0.4">7.00</text>
<line x1="42.5" y1="920.70" x2="45.0" y2="920.70" stroke="#6a6a6a" stroke-width="1"/>
<text transform="translate(38.50,921.80) scale(1.0,1.12)" font-size="7.4" font-weight="bold" text-anchor="end" fill="#000" stroke="#000" stroke-width="0.4">12.00</text>
<line x1="42.5" y1="876.61" x2="45.0" y2="876.61" stroke="#6a6a6a" stroke-width="1"/>
<text transform="translate(38.50,877.71) scale(1.0,1.12)" font-size="7.4" font-weight="bold" text-anchor="end" fill="#000" stroke="#000" stroke-width="0.4">17.00</text>
<line x1="42.5" y1="832.53" x2="45.0" y2="832.53" stroke="#6a6a6a" stroke-width="1"/>
<text transform="translate(38.50,833.63) scale(1.0,1.12)" font-size="7.4" font-weight="bold" text-anchor="end" fill="#000" stroke="#000" stroke-width="0.4">22.00</text>
<text transform="translate(73.55,1110.20)" font-size="9.1" font-weight="bold" text-anchor="middle" fill="#000" stroke="#000" stroke-width="0.3">A1</text>
<text transform="translate(132.70,1110.20)" font-size="9.1" font-weight="bold" text-anchor="middle" fill="#000" stroke="#000" stroke-width="0.3">A9</text>
<text transform="translate(191.70,1110.20)" font-size="9.1" font-weight="bold" text-anchor="middle" fill="#000" stroke="#000" stroke-width="0.3">A11</text>
<text transform="translate(251.70,1110.20)" font-size="9.1" font-weight="bold" text-anchor="middle" fill="#000" stroke="#000" stroke-width="0.3">B9</text>
<text transform="translate(310.50,1110.20)" font-size="9.1" font-weight="bold" text-anchor="middle" fill="#000" stroke="#000" stroke-width="0.3">C5</text>
<text transform="translate(369.10,1110.20)" font-size="9.1" font-weight="bold" text-anchor="middle" fill="#000" stroke="#000" stroke-width="0.3">C9</text>
<text transform="translate(427.60,1110.20)" font-size="9.1" font-weight="bold" text-anchor="middle" fill="#000" stroke="#000" stroke-width="0.3">C12</text>
<text transform="translate(486.95,1110.20)" font-size="9.1" font-weight="bold" text-anchor="middle" fill="#000" stroke="#000" stroke-width="0.3">D13</text>
<text transform="translate(281.50,1131.80)" font-size="14.2" font-weight="bold" text-anchor="middle" fill="#000" stroke="#000" stroke-width="0.3">HOX Gene</text>
<text transform="translate(10.70,947.70) rotate(-90) scale(1.058,1.0)" font-size="11.9" font-weight="bold" text-anchor="middle" fill="#000" stroke="#000" stroke-width="0.3">Fold Difference compared to EtOH controls</text>
</svg>
</body></html>
